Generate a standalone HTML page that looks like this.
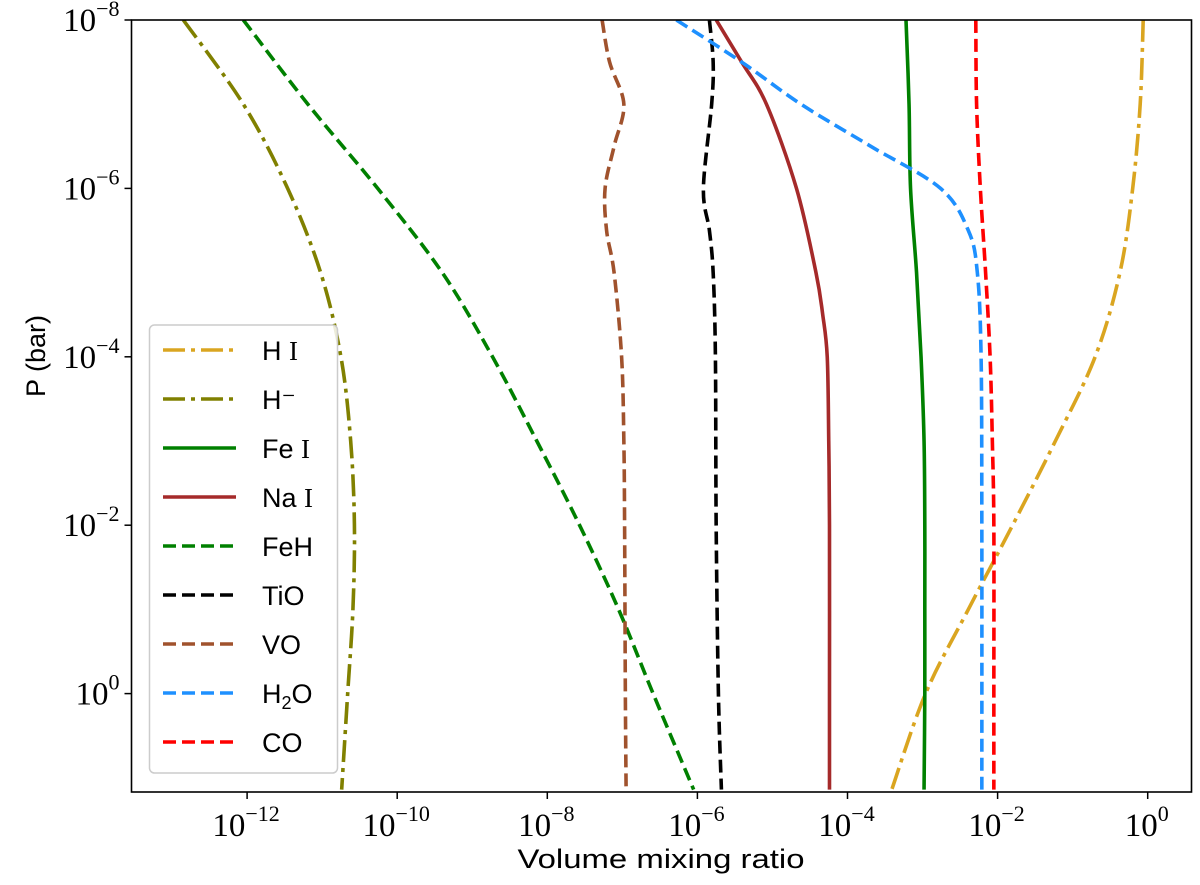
<!DOCTYPE html>
<html><head><meta charset="utf-8"><style>
body{margin:0;background:#fff;}
svg{display:block;}
.tk{font-family:"Liberation Serif",serif;font-size:33px;fill:#000;}
.sup{font-size:22px;}
.lg{font-family:"Liberation Sans",sans-serif;font-size:27px;fill:#000;}
.rm{font-family:"Liberation Serif",serif;}
</style></head><body>
<svg id="chart" width="1200" height="885" viewBox="0 0 1200 885">
<rect x="0" y="0" width="1200" height="885" fill="#fff"/>
<g id="plot"></g>
<g id="axes"></g>
<g id="legend"></g>
</svg>
<script>
const xTicks=[-12,-10,-8,-6,-4,-2,0];
const yTicks=[-8,-6,-4,-2,0];
const seriesNames=["H I","H\u207B","Fe I","Na I","FeH","TiO","VO","H2O","CO"];
const colors=["#daa520","#808000","#008000","#a52a2a","#008000","#000000","#a0522d","#1e90ff","#ff0000"];
const styles=["dashdot","dashdot","solid","solid","dashed","dashed","dashed","dashed","dashed"];
// log10(P) samples and log10(VMR) values per species
const pHI=[-8,-7,-6,-5,-4,-3,-2,-1,0,1.14];
const vHI=[-0.06,-0.10,-0.20,-0.37,-0.70,-1.23,-1.80,-2.39,-2.96,-3.41];
const pHm=[-8,-7,-6,-5,-4,-3,-2,-1,0,1.14];
const vHm=[-12.85,-12.05,-11.46,-11.02,-10.75,-10.62,-10.57,-10.59,-10.66,-10.74];
const pFe=[-8,-7,-6,-5,-4,-3,-2,-1,0,1.14];
const vFe=[-3.22,-3.18,-3.16,-3.08,-3.02,-2.98,-2.97,-2.97,-2.97,-2.98];
const pNa=[-8,-7.5,-7,-6,-5,-4.5,-4,-3,-2,0,1.14];
const vNa=[-5.75,-5.41,-5.08,-4.68,-4.42,-4.33,-4.27,-4.25,-4.24,-4.24,-4.24];
const pFeH=[-8,-7,-6,-5,-4,-3,-2,-1,0,1.14];
const vFeH=[-12.05,-11.19,-10.26,-9.40,-8.73,-8.14,-7.57,-7.05,-6.59,-6.05];
const pTiO=[-8,-7.5,-7,-6,-5.5,-5,-4,-2,0,1.14];
const vTiO=[-5.84,-5.79,-5.81,-5.92,-5.84,-5.79,-5.76,-5.75,-5.72,-5.68];
const pVO=[-8,-7.5,-7,-6.5,-6,-5.5,-5,-4,-3,-2,0,1.14];
const vVO=[-7.27,-7.17,-6.98,-7.11,-7.23,-7.21,-7.11,-7.01,-6.98,-6.97,-6.96,-6.95];
const pH2O=[-8,-7.5,-7,-6.5,-6,-5.5,-5,-4,-2,1.14];
const vH2O=[-6.28,-5.41,-4.62,-3.69,-2.76,-2.39,-2.27,-2.22,-2.21,-2.21];
const pCO=[-8,-7,-6,-5,-4,-3,-2,0,1.14];
const vCO=[-2.29,-2.28,-2.23,-2.16,-2.10,-2.07,-2.05,-2.05,-2.05];
const seriesP=[pHI,pHm,pFe,pNa,pFeH,pTiO,pVO,pH2O,pCO];
const seriesV=[vHI,vHm,vFe,vNa,vFeH,vTiO,vVO,vH2O,vCO];
const slugs=["h-i","h-minus","fe-i","na-i","feh","tio","vo","h2o","co"];

const L=131.5,R=1191.5,T=20,B=792;
const xs=v=>1147.7+75.05*v;
const ys=p=>20+84.2*(p+8);
const NS="http://www.w3.org/2000/svg";
function mk(tag,attrs,parent){const e=document.createElementNS(NS,tag);for(const k in attrs)e.setAttribute(k,attrs[k]);parent.appendChild(e);return e;}
const dash={solid:"",dashed:"13,6",dashdot:"22,6,4,6"};
function pathFor(P,V){
  const pts=P.map((p,i)=>[xs(V[i]),ys(p)]);
  let d="M"+pts[0][0].toFixed(1)+","+pts[0][1].toFixed(1);
  for(let i=0;i<pts.length-1;i++){
    const p0=pts[Math.max(0,i-1)],p1=pts[i],p2=pts[i+1],p3=pts[Math.min(pts.length-1,i+2)];
    const c1=[p1[0]+(p2[0]-p0[0])/6,p1[1]+(p2[1]-p0[1])/6];
    const c2=[p2[0]-(p3[0]-p1[0])/6,p2[1]-(p3[1]-p1[1])/6];
    d+=" C"+c1.join(",")+" "+c2.join(",")+" "+p2.join(",");
  }
  return d;
}
const plot=document.getElementById("plot");
const defs=mk("defs",{},plot);
const cp=mk("clipPath",{id:"clip"},defs);
mk("rect",{x:L,y:T,width:R-L,height:B-T},cp);
const g=mk("g",{"clip-path":"url(#clip)"},plot);
for(let s=0;s<seriesP.length;s++){
  const el=mk("path",{d:pathFor(seriesP[s],seriesV[s]),fill:"none",stroke:colors[s],"stroke-width":3.6,"stroke-dasharray":dash[styles[s]]},g);
  
  
}
const ax=document.getElementById("axes");
const frame=mk("rect",{x:L,y:T,width:R-L,height:B-T,fill:"none",stroke:"#000","stroke-width":1.6},ax);


xTicks.forEach(t=>{
  const x=xs(t);
  mk("line",{x1:x,y1:B,x2:x,y2:B+7,stroke:"#000","stroke-width":1.5},ax);
  const tx=mk("text",{x:x-1,y:B+44,"text-anchor":"middle",class:"tk"},ax);
  
  
  tx.innerHTML='10<tspan class="sup" dy="-15">'+(t<0?'\u2212'+(-t):t)+'</tspan>';
});
yTicks.forEach(t=>{
  const y=ys(t);
  mk("line",{x1:L-7,y1:y,x2:L,y2:y,stroke:"#000","stroke-width":1.5},ax);
  const tx=mk("text",{x:L-12,y:y+11,"text-anchor":"end",class:"tk"},ax);
  
  
  tx.innerHTML='10<tspan class="sup" dy="-15">'+(t<0?'\u2212'+(-t):t)+'</tspan>';
});
const xl=mk("text",{x:661,y:868,"text-anchor":"middle",class:"lg","font-size":"31",textLength:"287",lengthAdjust:"spacingAndGlyphs"},ax);


xl.textContent="Volume mixing ratio";
const yl=mk("text",{x:0,y:0,"text-anchor":"middle",class:"lg","font-size":"31",transform:"translate(45,356) rotate(-90)"},ax);


yl.textContent="P (bar)";
const lg=document.getElementById("legend");
const box=mk("rect",{x:149.5,y:325,width:188,height:448,rx:5,fill:"#fff","fill-opacity":0.85,stroke:"#ccc","stroke-width":1.5},lg);


seriesNames.forEach((n,i)=>{
  const y=350+i*49;
  const en=mk("g",{},lg);
  
  
  mk("line",{x1:163,y1:y,x2:236,y2:y,stroke:colors[i],"stroke-width":3.6,"stroke-dasharray":dash[styles[i]]},en);
  const t=mk("text",{x:262,y:y+10,class:"lg"},en);
  if(n==="H2O") t.innerHTML='H<tspan font-size="18" dy="6">2</tspan><tspan dy="-6">O</tspan>';
  else if(n.endsWith(" I")) t.innerHTML=n.slice(0,-2)+' <tspan class="rm">I</tspan>';
  else t.textContent=n;
});
</script>
</body></html>
